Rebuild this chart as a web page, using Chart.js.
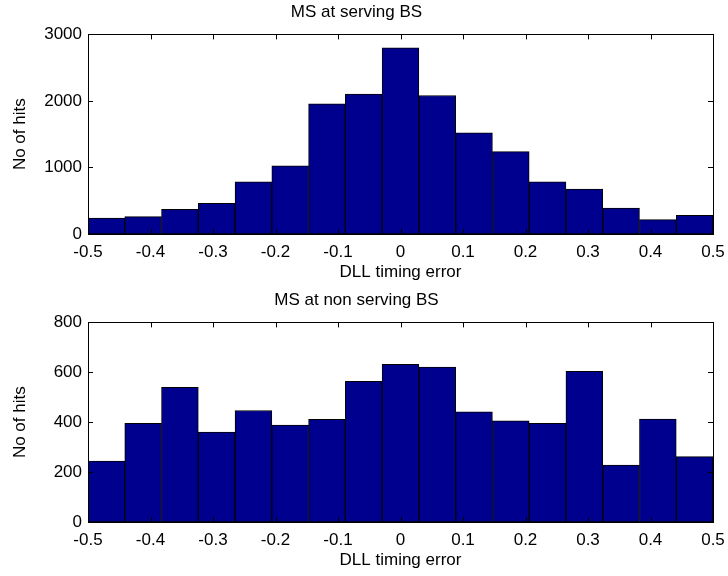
<!DOCTYPE html>
<html>
<head>
<meta charset="utf-8">
<script src="https://cdn.jsdelivr.net/npm/chart.js@4.4.1/dist/chart.umd.min.js"></script>
<style>
  body { margin: 0; background: #fff; }
  .panel { position: absolute; left: 0; width: 728px; height: 288px; }
</style>
</head>
<body>
<div class="panel" style="top:0"><canvas id="servingChart" width="728" height="288"></canvas></div>
<div class="panel" style="top:288px"><canvas id="nonServingChart" width="728" height="288"></canvas></div>
<script>
// histogram bins (centres of 17 bins between -0.5 and 0.5)
const binCenters = ["-0.471", "-0.412", "-0.353", "-0.294", "-0.235", "-0.176", "-0.118", "-0.059", "0",
  "0.059", "0.118", "0.176", "0.235", "0.294", "0.353", "0.412", "0.471"];

const servingHits = [241, 261, 371, 462, 783, 1024, 1957, 2102, 2800, 2082, 1520, 1239, 783, 677, 391, 216, 281];
const nonServingHits = [244, 395, 540, 360, 447, 388, 412, 564, 632, 621, 442, 405, 395, 604, 228, 413, 262];

const xMin = -0.5;
const xMax = 0.5;
const xStep = 0.1;
const servingYMax = 3000;
const servingYStep = 1000;
const nonServingYMax = 800;
const nonServingYStep = 200;

const fontFamily = "'Liberation Sans', Arial, sans-serif";
const barColor = "#00008F";

// box round the plot + inward ticks on every side, matlab style
const boxPlugin = {
  id: "box",
  afterDatasetsDraw(chart) {
    const ctx = chart.ctx;
    const area = chart.chartArea;
    const xs = chart.scales.x2;
    const ys = chart.scales.y;
    const len = 5;
    ctx.save();
    ctx.strokeStyle = "#000";
    ctx.lineWidth = 1;
    ctx.strokeRect(Math.round(area.left) + 0.5, Math.round(area.top) + 0.5,
      Math.round(area.right - area.left), Math.round(area.bottom - area.top));
    ctx.beginPath();
    for (const t of xs.ticks) {
      const px = Math.round(xs.getPixelForValue(t.value)) + 0.5;
      ctx.moveTo(px, area.bottom);
      ctx.lineTo(px, area.bottom - len);
      ctx.moveTo(px, area.top);
      ctx.lineTo(px, area.top + len);
    }
    for (const t of ys.ticks) {
      const py = Math.round(ys.getPixelForValue(t.value)) + 0.5;
      ctx.moveTo(area.left, py);
      ctx.lineTo(area.left + len, py);
      ctx.moveTo(area.right, py);
      ctx.lineTo(area.right - len, py);
    }
    ctx.stroke();
    ctx.restore();
  },
};

const makeChart = (canvasId, titleText, values, yMax, yStep) => {
  const ctx = document.getElementById(canvasId).getContext("2d");
  return new Chart(ctx, {
    type: "bar",
    data: {
      labels: binCenters,
      datasets: [
        {
          data: values,
          backgroundColor: barColor,
          borderColor: "#000",
          borderWidth: 1,
          borderSkipped: false,
          barPercentage: 1,
          categoryPercentage: 1,
        },
      ],
    },
    options: {
      responsive: false,
      animation: false,
      layout: { padding: { left: 0, right: 15, top: 0, bottom: 0 } },
      plugins: {
        legend: { display: false },
        tooltip: { enabled: false },
        title: {
          display: true,
          text: titleText,
          color: "#000",
          font: { family: fontFamily, size: 17, weight: "normal" },
          padding: { top: 2, bottom: 12 },
        },
      },
      scales: {
        x: { display: false },
        x2: {
          type: "linear",
          position: "bottom",
          offset: false,
          min: xMin,
          max: xMax,
          grid: { display: false, drawTicks: false },
          border: { display: false },
          ticks: {
            stepSize: xStep,
            color: "#000",
            padding: 8,
            font: { family: fontFamily, size: 17 },
            callback: (v) => String(Number(v.toFixed(1))),
          },
          title: {
            display: true,
            text: "DLL timing error",
            color: "#000",
            font: { family: fontFamily, size: 17 },
            padding: { top: 0, bottom: 5 },
          },
          afterFit: (scale) => {
            scale.height = 54;
            scale.paddingLeft = 0;
            scale.paddingRight = 0;
          },
        },
        y: {
          min: 0,
          max: yMax,
          grid: { display: false, drawTicks: false },
          border: { display: false },
          ticks: {
            stepSize: yStep,
            color: "#000",
            padding: 6,
            font: { family: fontFamily, size: 17 },
            callback: (v) => String(v),
          },
          title: {
            display: true,
            text: "No of hits",
            color: "#000",
            font: { family: fontFamily, size: 17 },
            padding: { top: 10, bottom: 0 },
          },
          afterFit: (scale) => {
            scale.width = 88;
            scale.paddingTop = 0;
            scale.paddingBottom = 0;
          },
        },
      },
    },
    plugins: [boxPlugin],
  });
};

makeChart("servingChart", "MS at serving BS", servingHits, servingYMax, servingYStep);
makeChart("nonServingChart", "MS at non serving BS", nonServingHits, nonServingYMax, nonServingYStep);
</script>
</body>
</html>
